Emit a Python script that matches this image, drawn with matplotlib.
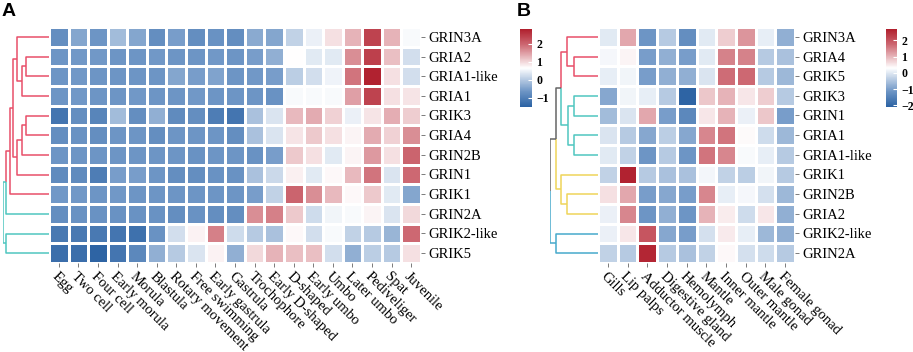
import matplotlib
matplotlib.use("Agg")
import matplotlib.pyplot as plt
import matplotlib.colors as mcolors
import numpy as np

# ---- data -------------------------------------------------------------
stages = ["Egg", "Two cell", "Four cell", "Early morula", "Morula", "Blastula",
          "Rotary movement", "Free swimming", "Early gastrula", "Gastrula",
          "Trochophore", "Early D-shaped", "D-shaped", "Early umbo", "Umbo",
          "Later umbo", "Pediveliger", "Spat", "Juvenile"]
genes_a = ["GRIN3A", "GRIA2", "GRIA1-like", "GRIA1", "GRIK3", "GRIA4",
           "GRIN2B", "GRIN1", "GRIK1", "GRIN2A", "GRIK2-like", "GRIK5"]
expr_a = [
    [-0.75, -0.43, -0.64, -0.17, -0.43, -0.75, -0.53, -0.75, -0.68, -0.75, -0.38, -0.43, 0.11, 0.48, 0.91, 1.30, 2.37, 1.30, 0.59],
    [-0.64, -0.60, -0.60, -0.64, -0.64, -0.60, -0.64, -0.64, -0.60, -0.64, -0.53, -0.32, 0.65, 0.39, 0.39, 1.62, 2.41, 1.19, 0.26],
    [-0.64, -0.60, -0.64, -0.64, -0.64, -0.64, -0.43, -0.53, -0.47, -0.64, -0.60, -0.53, 0.05, 0.26, 0.50, 1.83, 2.75, 0.91, 0.26],
    [-0.64, -0.60, -0.64, -0.64, -0.60, -0.64, -0.64, -0.60, -0.64, -0.64, -0.64, -0.68, 0.59, 0.59, 0.59, 1.47, 2.37, 0.91, 0.87],
    [-1.18, -0.75, -0.90, -0.17, -0.75, -0.32, -0.81, -0.75, -1.03, -1.18, -0.10, 0.33, 1.25, 1.36, 1.04, 0.48, 0.87, 1.34, 1.08],
    [-0.75, -0.68, -0.75, -0.64, -0.64, -0.75, -0.64, -0.64, -0.64, -0.75, -0.10, 0.33, 0.87, 1.12, 0.91, 0.74, 1.36, 1.04, 1.62],
    [-0.64, -0.64, -0.64, -0.64, -0.64, -0.64, -0.64, -0.68, -0.64, -0.64, -0.68, -0.53, 1.12, 0.91, 0.39, 0.74, 1.51, 0.91, 1.98],
    [-0.81, -0.81, -1.03, -0.53, -0.53, -0.64, -0.75, -0.75, -0.68, -0.68, -0.10, 0.18, 0.78, 0.39, 0.71, 1.25, 1.83, 0.33, 1.94],
    [-0.60, -0.60, -0.64, -0.60, -0.64, -0.64, -0.64, -0.64, -0.64, -0.64, -0.53, 0.11, 1.98, 1.62, 1.25, 0.71, 1.12, 0.39, -0.43],
    [-0.75, -0.68, -0.68, -0.68, -0.68, -0.68, -0.75, -0.68, -0.75, -0.75, 1.62, 1.73, 1.12, 0.22, 0.52, 0.59, 0.74, 0.33, 0.97],
    [-1.11, -1.11, -1.11, -1.18, -1.24, -0.68, 0.26, 0.76, 1.73, 0.22, 0.01, -0.10, 0.71, 0.26, 0.59, 0.11, 0.01, -0.25, 1.94],
    [-1.29, -1.29, -1.45, -1.18, -0.86, -0.32, 0.01, 0.33, 0.76, -0.32, 0.97, 1.30, 1.19, 1.19, 0.26, -0.32, 0.05, 0.01, 0.91],
]
# merges: (child1, child2, height); leaves are 0..11 in row order
tree_a = [(1, 2, 23), (12, 3, 27.3), (0, 13, 31.7), (4, 5, 23), (15, 6, 27.3),
          (16, 7, 31.7), (14, 17, 35.7), (18, 8, 39), (19, 9, 43.3),
          (10, 11, 43.3), (20, 21, 46.3)]
groups_a = [0, 0, 0, 0, 0, 0, 0, 0, 0, 1, 1, 1]

tissues = ["Gills", "Lip palps", "Adductor muscle", "Digestive gland", "Hemolymph",
           "Mantle", "Inner mantle", "Outer mantle", "Male gonad", "Female gonad"]
genes_b = ["GRIN3A", "GRIA4", "GRIK5", "GRIK3", "GRIN1", "GRIA1", "GRIA1-like",
           "GRIK1", "GRIN2B", "GRIA2", "GRIK2-like", "GRIN2A"]
expr_b = [
    [0.01, 1.14, -1.14, -0.42, -1.26, 0.01, 0.78, 1.31, 0.06, -0.78],
    [0.20, 0.40, -1.02, -0.78, -1.02, 0.01, 1.50, 1.50, -0.42, -0.54],
    [0.06, 0.16, -1.02, -0.78, -0.78, -0.06, 1.69, 1.74, -0.42, -0.66],
    [-0.90, 0.16, 0.06, -0.42, -2.05, 0.83, 1.02, 0.54, 0.78, -0.42],
    [-0.61, -0.06, 1.14, -1.02, -1.38, 0.54, 1.02, 0.11, 0.83, -1.02],
    [-0.06, -0.42, -0.90, -0.37, -0.90, 1.45, 1.62, 0.35, -0.18, -0.66],
    [0.01, -0.30, -1.14, -0.42, -1.14, 1.62, 1.45, 0.23, 0.06, -0.42],
    [-0.30, 2.65, -0.42, -0.54, -0.54, 0.18, -0.30, -0.37, 0.16, -0.42],
    [0.59, 1.14, -1.02, -0.90, -1.02, 1.45, 0.06, 0.20, -0.13, -0.66],
    [0.11, 1.45, -1.14, -0.78, -1.14, 1.02, 0.47, -0.18, 0.54, -0.78],
    [0.11, 0.54, 1.98, -0.90, -1.02, -0.13, 0.49, 0.06, -0.66, -0.78],
    [-0.30, -0.42, 2.60, -0.42, -0.54, -0.30, 0.37, -0.13, -0.18, -0.42],
]
tree_b = [(1, 2, 24), (0, 12, 30.6), (3, 4, 24), (5, 6, 24), (14, 15, 30),
          (13, 16, 36.6), (8, 9, 30.6), (7, 18, 36.6), (17, 19, 42.3),
          (10, 11, 42.3), (20, 21, 48.3)]
groups_b = [0, 0, 0, 1, 1, 1, 1, 2, 2, 2, 3, 3]

W, H = 913, 352
SERIF = "Liberation Serif"
cmap = mcolors.LinearSegmentedColormap.from_list(
    "bwr2", [(0.0, "#2B62A3"), (0.2, "#6D95C5"), (0.5, "#FFFFFF"),
             (0.8, "#CD6872"), (1.0, "#B01F2D")])


def px_axes(fig, x0, y0, x1, y1):
    return fig.add_axes([x0 / W, 1 - y1 / H, (x1 - x0) / W, (y1 - y0) / H])


def draw_tree(ax, tree, groups, colors, mixed, nleaf):
    ypos = {i: i for i in range(nleaf)}
    hpos = {i: 0.0 for i in range(nleaf)}
    leaves = {i: {groups[i]} for i in range(nleaf)}
    for k, (a, b, h) in enumerate(tree):
        node = nleaf + k
        ypos[node] = (ypos[a] + ypos[b]) / 2
        hpos[node] = h
        leaves[node] = leaves[a] | leaves[b]
        for c in (a, b):
            g = leaves[c]
            col = colors[list(g)[0]] if len(g) == 1 else mixed
            ax.plot([hpos[c], h, h], [ypos[c], ypos[c], ypos[node]],
                    color=col, lw=1.1, solid_capstyle="butt")
    ax.set_xlim(tree[-1][2], 0)
    ax.set_ylim(nleaf - 0.5, -0.5)
    ax.axis("off")


def draw_heat(ax, data, rows, cols, vmin, vmax):
    data = np.array(data)
    mesh = ax.pcolormesh(data, cmap=cmap, vmin=vmin, vmax=vmax,
                         edgecolors="white", linewidth=0.9)
    ax.set_xlim(0, len(cols))
    ax.set_ylim(len(rows), 0)
    for s in ax.spines.values():
        s.set_visible(False)
    ax.yaxis.tick_right()
    ax.set_yticks(np.arange(len(rows)) + 0.5)
    ax.set_yticklabels(rows, fontsize=10.5, family=SERIF)
    ax.set_xticks(np.arange(len(cols)) + 0.5)
    ax.set_xticklabels(cols, fontsize=10.5, family=SERIF, rotation=-45,
                       ha="left", va="top", rotation_mode="anchor")
    ax.tick_params(length=3, width=0.6, color="#666666", pad=2)
    return mesh


def draw_cbar(fig, mesh, box, ticks):
    cax = px_axes(fig, *box)
    cb = fig.colorbar(mesh, cax=cax, ticks=ticks)
    cb.outline.set_visible(False)
    cax.tick_params(length=3, width=0.8, color="white", direction="in", pad=3)
    for t in cax.get_yticklabels():
        t.set_fontsize(8.5)
        t.set_fontweight("bold")
        t.set_family(SERIF)
    return cb


fig = plt.figure(figsize=(W / 100, H / 100), dpi=100)

# panel A
ax_a = px_axes(fig, 49, 27, 421, 263)
mesh_a = draw_heat(ax_a, expr_a, genes_a, stages, -1.5, 2.8)
den_a = px_axes(fig, 49 - 46.3, 27, 49, 263)
draw_tree(den_a, tree_a, groups_a, ["#E8506A", "#4FC6C0"], "#4FC6C0", len(genes_a))
draw_cbar(fig, mesh_a, (520, 29, 532, 107), [-1, 0, 1, 2])

# panel B
ax_b = px_axes(fig, 598, 27, 795, 263)
mesh_b = draw_heat(ax_b, expr_b, genes_b, tissues, -2.1, 2.7)
den_b = px_axes(fig, 598 - 48.3, 27, 598, 263)
draw_tree(den_b, tree_b, groups_b, ["#E8506A", "#4FC6C0", "#EFD55A", "#47AACB"],
          "#666666", len(genes_b))
draw_cbar(fig, mesh_b, (886, 29, 897, 107), [-2, -1, 0, 1, 2])

fig.text(2 / W, 1 - 3 / H, "A", fontsize=14, fontweight="bold",
         family="Liberation Sans", va="top", ha="left")
fig.text(517 / W, 1 - 3 / H, "B", fontsize=14, fontweight="bold",
         family="Liberation Sans", va="top", ha="left")

fig.savefig("out.png", dpi=100)
